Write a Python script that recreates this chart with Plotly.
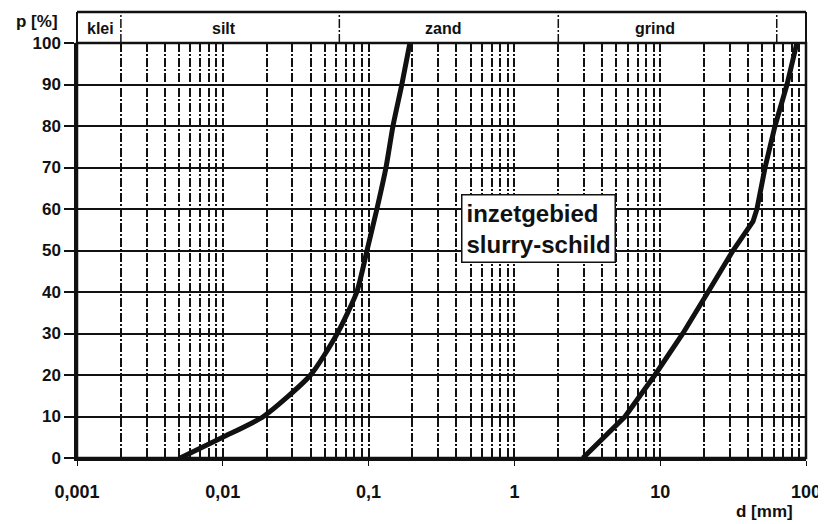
import math
import plotly.graph_objects as go

# Grain-size boundary curves (d in mm, p in %)
d_fine = [0.0051, 0.010, 0.019, 0.040, 0.061, 0.083, 0.0975, 0.114, 0.1316, 0.147, 0.169, 0.192]
p_fine = [0, 5, 10, 20, 30, 40, 50, 60, 70, 80, 90, 100]

d_coarse = [2.95, 5.74, 9.2, 14.3, 21.3, 31.6, 43.3, 46.1, 52.4, 61.3, 74.1, 86.6]
p_coarse = [0, 10, 20, 30, 40, 50, 57, 60, 70, 80, 90, 100]

# Soil class band
band_edges = [0.002, 0.063, 2, 63]
band_labels = ["klei", "silt", "zand", "grind"]
band_label_x = [0.00144, 0.0102, 0.324, 9.2]

x_tickvals = [0.001, 0.01, 0.1, 1, 10, 100]
x_ticktext = ["0,001", "0,01", "0,1", "1", "10", "100"]
y_tickvals = [0, 10, 20, 30, 40, 50, 60, 70, 80, 90, 100]

box_text = "inzetgebied<br>slurry-schild"
box_d, box_p = 1.47, 55.4

FONT = "Arial, Liberation Sans, sans-serif"
INK = "#111111"
DASH = "9px,2px,2px,2px"

fig = go.Figure()
fig.add_trace(go.Scatter(x=d_fine, y=p_fine, mode="lines",
                         line=dict(color=INK, width=5, shape="spline", smoothing=0.6),
                         showlegend=False, hoverinfo="skip"))
fig.add_trace(go.Scatter(x=d_coarse, y=p_coarse, mode="lines",
                         line=dict(color=INK, width=5),
                         showlegend=False, hoverinfo="skip"))

band_top = 1.0747
shapes = [
    # band outline
    dict(type="line", xref="paper", yref="paper", x0=0, x1=1, y0=band_top, y1=band_top,
         line=dict(color=INK, width=2.5)),
    dict(type="line", xref="paper", yref="paper", x0=0, x1=0, y0=1, y1=band_top,
         line=dict(color=INK, width=2)),
    dict(type="line", xref="paper", yref="paper", x0=1, x1=1, y0=1, y1=band_top,
         line=dict(color=INK, width=2)),
    # plot frame
    dict(type="rect", xref="paper", yref="paper", x0=0, x1=1, y0=0, y1=1,
         line=dict(color=INK, width=2.5), fillcolor="rgba(0,0,0,0)", layer="above"),
]
for e in band_edges:
    shapes.append(dict(type="line", xref="x", yref="paper", x0=e, x1=e, y0=1, y1=band_top,
                       line=dict(color=INK, width=1.5, dash=DASH)))

annotations = []
for lab, lx in zip(band_labels, band_label_x):
    annotations.append(dict(x=math.log10(lx), y=1.036, xref="x", yref="paper",
                            text=lab, showarrow=False, xanchor="center", yanchor="middle",
                            font=dict(family=FONT, size=16, color=INK, weight="bold")))
annotations += [
    dict(x=math.log10(box_d), y=box_p, xref="x", yref="y", text=box_text,
         showarrow=False, align="left", xanchor="center", yanchor="middle",
         bgcolor="white", bordercolor=INK, borderwidth=1.5,
         borderpad=4, font=dict(family=FONT, size=24, color=INK, weight="bold")),
    dict(x=-0.023, y=1.053, xref="paper", yref="paper", text="p [%]", showarrow=False,
         xanchor="right", yanchor="middle",
         font=dict(family=FONT, size=17, color=INK, weight="bold")),
    dict(x=0.985, y=-0.130, xref="paper", yref="paper", text="d [mm]", showarrow=False,
         xanchor="right", yanchor="middle",
         font=dict(family=FONT, size=17, color=INK, weight="bold")),
]

# page body has an 8px default margin; compensate so the plot lands where the reference has it
fig.update_layout(
    width=818, height=516,
    margin=dict(l=69, r=20, t=35, b=66, autoexpand=False),
    paper_bgcolor="white", plot_bgcolor="white",
    shapes=shapes, annotations=annotations,
    xaxis=dict(type="log", range=[-3, 2], tickvals=x_tickvals, ticktext=x_ticktext,
               automargin=False,
               showgrid=True, gridcolor=INK, gridwidth=1.5, griddash=DASH,
               ticks="outside", ticklen=5, tickcolor=INK, ticklabelstandoff=11,
               tickfont=dict(family=FONT, size=18, color=INK, weight="bold"),
               minor=dict(dtick="D1", showgrid=True, gridcolor=INK, gridwidth=1.5,
                          griddash=DASH, ticks=""),
               showline=True, linecolor=INK, linewidth=2.5, zeroline=False),
    yaxis=dict(range=[0, 100], tickvals=y_tickvals, automargin=False,
               showgrid=True, gridcolor=INK, gridwidth=1.5,
               ticks="outside", ticklen=10, tickcolor=INK, tickwidth=1.5,
               tickfont=dict(family=FONT, size=17, color=INK, weight="bold"),
               showline=True, linecolor=INK, linewidth=2.5, zeroline=False),
)

fig.write_html("out.html")
